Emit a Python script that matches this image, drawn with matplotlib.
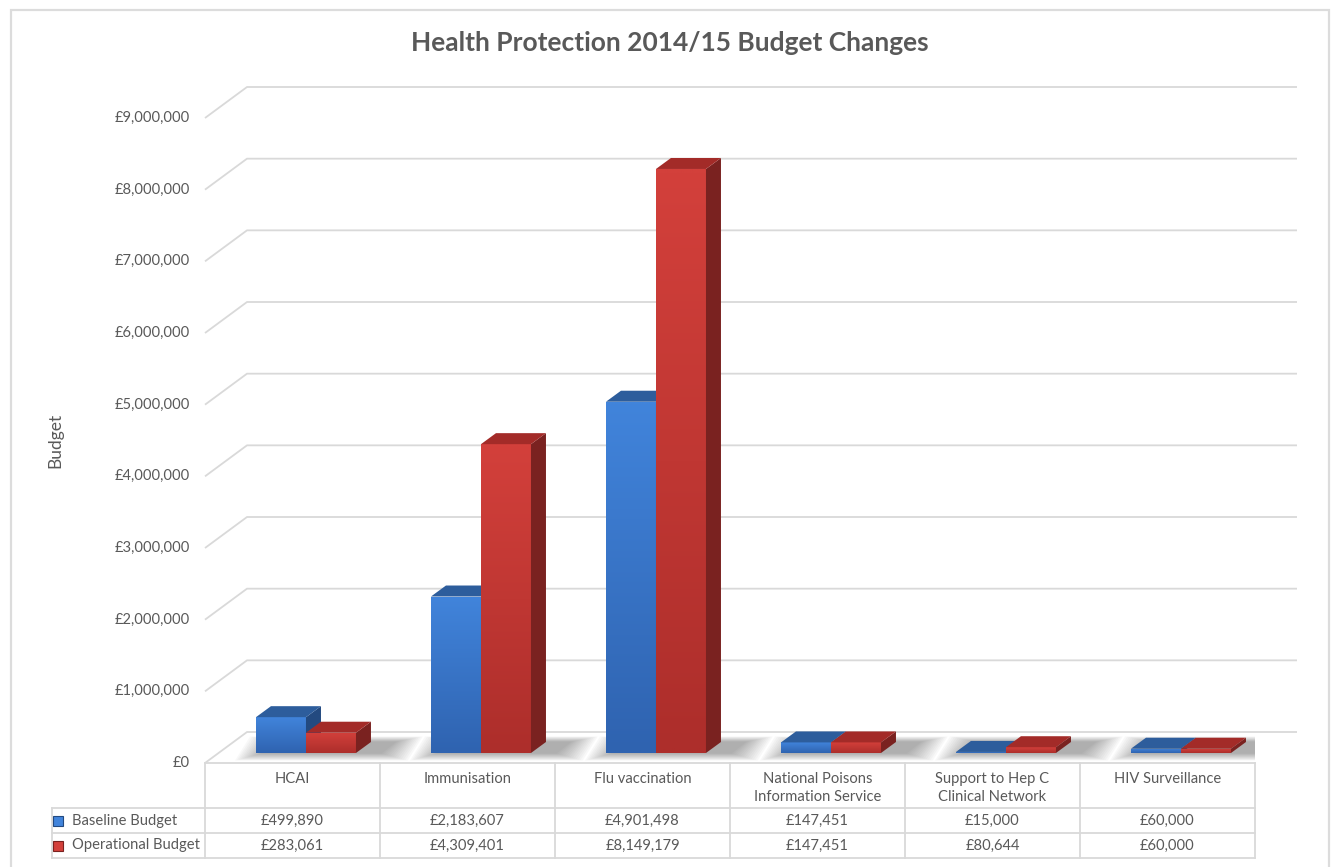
import matplotlib
matplotlib.use("Agg")
import matplotlib.pyplot as plt
import matplotlib.transforms as mtransforms
from matplotlib.patches import Polygon, Rectangle
from matplotlib.colors import to_rgb
import numpy as np

plt.rcParams['font.family'] = ['Lato', 'DejaVu Sans']

categories = ["HCAI", "Immunisation", "Flu vaccination",
              "National Poisons\nInformation Service",
              "Support to Hep C\nClinical Network", "HIV Surveillance"]
series_names = ["Baseline Budget", "Operational Budget"]
baseline = [499890, 2183607, 4901498, 147451, 15000, 60000]
operational = [283061, 4309401, 8149179, 147451, 80644, 60000]
yticks = list(range(0, 9000001, 1000000))

# face colours per series: front-top, front-bottom, side, top
face_cols = [
    ("#4184db", "#2f63b0", "#234a80", "#2d5d9c"),
    ("#d3403b", "#ad2e2b", "#7a2220", "#a32b28"),
]
text_col = "#595959"
grid_col = "#d9d9d9"

W, H = 1336, 867
fig = plt.figure(figsize=(W / 100, H / 100), dpi=100)

# front plane of the 3-D box
ax = fig.add_axes([205 / W, (H - 763) / H, 1050 / W, 645 / H])
ax.set_xlim(0, 6)
ax.set_ylim(0, 9e6)
ax.axis('off')

# wall depth and bar placement, in data units
WX, WY = 0.24, 432500
FX, FY = 0.077, 139500     # bar front offset from the front plane
BX, BY = 0.0857, 153500    # bar depth
bw = 1 / 3.5               # gap width 150%
gap = 0.75 * bw

# back wall gridlines with the left-wall diagonals
for v in yticks:
    ax.plot([0, WX, 6 + WX], [v, v + WY, v + WY], color=grid_col, lw=1.3,
            clip_on=False, zorder=1, solid_capstyle='butt')
    ax.text(-0.085, v, f"£{v:,}", ha='right', va='center', fontsize=10.6,
            color=text_col)

ax.text(-0.855, 4.5e6, "Budget", rotation=90, ha='center', va='center',
        fontsize=12.5, color=text_col)


def gradient_face(verts, c_top, c_bot, z):
    patch = Polygon(verts, closed=True, facecolor='none', edgecolor='none',
                    zorder=z)
    ax.add_patch(patch)
    xs = [p[0] for p in verts]
    ys = [p[1] for p in verts]
    t = np.linspace(0, 1, 64)[:, None]
    grad = (1 - t) * np.array(to_rgb(c_bot)) + t * np.array(to_rgb(c_top))
    grad = np.repeat(grad[:, None, :], 2, axis=1)
    im = ax.imshow(grad, extent=(min(xs), max(xs), min(ys), max(ys)),
                   origin='lower', aspect='auto', zorder=z,
                   interpolation='bilinear')
    im.set_clip_path(patch)


z = 3
for i in range(len(categories)):
    # soft floor shadow round the group, built from stacked faint layers
    gx0 = i + gap + FX
    gx1 = i + gap + 2 * bw + FX + BX
    n = 14
    for k in range(n):
        f = 1 - k / n
        e = 0.16 * f
        sx0, sx1 = gx0 - e + 0.04, gx1 + e + 0.05
        sy0 = FY * (1 - 0.75 * f)
        sy1 = FY + BY * (1 + 0.5 * f)
        ax.add_patch(Polygon([(sx0, sy0), (sx1, sy0),
                              (sx1 + BX, sy1), (sx0 + BX, sy1)],
                             closed=True, facecolor='#333333', alpha=0.032,
                             edgecolor='none', zorder=2))
    for s, vals in enumerate([baseline, operational]):
        v = vals[i]
        ft, fb, side, top = face_cols[s]
        x0 = i + gap + s * bw + FX
        x1 = x0 + bw
        y0, y1 = FY, FY + v
        gradient_face([(x0, y0), (x1, y0), (x1, y1), (x0, y1)], ft, fb, z)
        ax.add_patch(Polygon([(x1, y0), (x1 + BX, y0 + BY),
                              (x1 + BX, y1 + BY), (x1, y1)], closed=True,
                             facecolor=side, edgecolor='none', zorder=z + 1))
        ax.add_patch(Polygon([(x0, y1), (x1, y1), (x1 + BX, y1 + BY),
                              (x0 + BX, y1 + BY)], closed=True,
                             facecolor=top, edgecolor='none', zorder=z + 1))
        z += 2

# data table under the chart
tb = mtransforms.blended_transform_factory(ax.transData, ax.transAxes)
px = 1 / 645
row_y = [0, -45 * px, -70 * px, -95 * px]
lx = -0.874
tkw = dict(color=grid_col, lw=1.3, transform=tb, clip_on=False, zorder=1)
ax.plot([0, 6], [row_y[0]] * 2, **tkw)
for ry in row_y[1:]:
    ax.plot([lx, 6], [ry] * 2, **tkw)
for c in range(len(categories) + 1):
    ax.plot([c, c], [row_y[0], row_y[3]], **tkw)
ax.plot([lx, lx], [row_y[1], row_y[3]], **tkw)

for c, name in enumerate(categories):
    ax.text(c + 0.5, -9 * px, name, ha='center', va='top', fontsize=10.6,
            color=text_col, transform=tb, linespacing=1.35)

for s, vals in enumerate([baseline, operational]):
    yc = (row_y[s + 1] + row_y[s + 2]) / 2
    ax.plot([-0.838], [yc], marker='s', markersize=7,
            markerfacecolor=face_cols[s][0],
            markeredgecolor=face_cols[s][2], markeredgewidth=0.8,
            transform=tb, clip_on=False)
    ax.text(-0.76, yc, series_names[s], ha='left', va='center',
            fontsize=10.6, color=text_col, transform=tb)
    for c, v in enumerate(vals):
        ax.text(c + 0.5, yc, f"£{v:,}", ha='center', va='center',
                fontsize=10.6, color=text_col, transform=tb)

fig.text(670 / W, 1 - 43 / H, "Health Protection 2014/15 Budget Changes",
         ha='center', va='center', fontsize=19, fontweight='bold',
         color=text_col)

# chart area border
fig.patches.append(Rectangle((11 / W, -0.02), 1318 / W, 1.02 - 10 / H,
                             transform=fig.transFigure, fill=False,
                             edgecolor='#dcdcdc', lw=1.6))

fig.savefig("out.png", dpi=100)
